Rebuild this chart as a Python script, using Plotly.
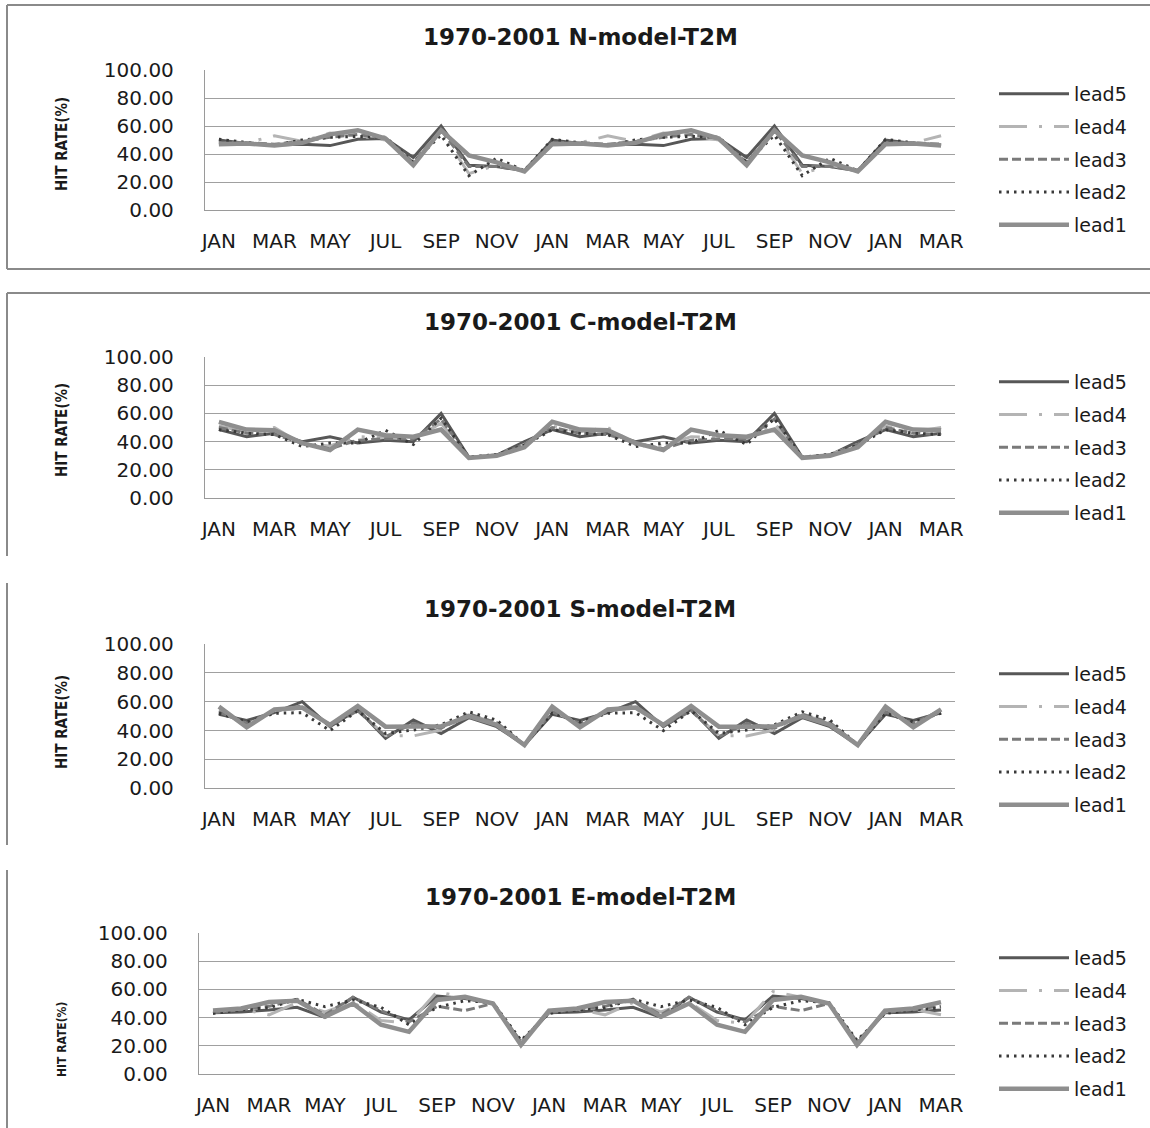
import plotly.graph_objects as go

W, H = 1150, 1128

months = ["JAN", "FEB", "MAR", "APR", "MAY", "JUN", "JUL", "AUG", "SEP", "OCT", "NOV", "DEC",
          "JAN", "FEB", "MAR", "APR", "MAY", "JUN", "JUL", "AUG", "SEP", "OCT", "NOV", "DEC",
          "JAN", "FEB", "MAR"]

series_names = ["lead5", "lead4", "lead3", "lead2", "lead1"]

# ---- N-model ----
n_lead5 = [50, 47.5, 46.5, 47, 46, 50.5, 51, 37.5, 60, 32, 31, 28,
           50, 47.5, 46.5, 47, 46, 50.5, 51, 37.5, 60, 32, 31, 28,
           50, 47.5, 46.5]
n_lead4 = [47, 48, 53, 49, 55, 53, 50, 34, 56, 26, 32, 28,
           47, 48, 53, 49, 55, 53, 50, 34, 56, 26, 32, 28,
           47, 48, 53]
n_lead3 = [48, 48, 47, 49, 52, 54, 51, 34, 57, 31, 31, 28.5,
           48, 48, 47, 49, 52, 54, 51, 34, 57, 31, 31, 28.5,
           48, 48, 47]
n_lead2 = [50.5, 48, 46, 50, 52, 52.5, 52, 34, 53.5, 24.5, 37, 28,
           50.5, 48, 46, 50, 52, 52.5, 52, 34, 53.5, 24.5, 37, 28,
           50.5, 48, 46]
n_lead1 = [47, 47.5, 46, 48, 54, 57, 51, 32, 57, 39, 34, 27.5,
           47, 47.5, 46, 48, 54, 57, 51, 32, 57, 39, 34, 27.5,
           47, 47.5, 46]

# ---- C-model ----
c_lead5 = [48.5, 43.5, 46, 40, 43.5, 39, 41, 40, 60, 29, 30.5, 40,
           48.5, 43.5, 46, 40, 43.5, 39, 41, 40, 60, 29, 30.5, 40,
           48.5, 43.5, 46]
c_lead4 = [51, 47, 50, 38, 37, 43.5, 43, 42, 53, 29, 31, 38,
           51, 47, 50, 38, 37, 43.5, 43, 42, 53, 29, 31, 38,
           51, 47, 50]
c_lead3 = [50, 46, 45, 39, 35, 41, 42, 42, 56, 28.5, 30.5, 38,
           50, 46, 45, 39, 35, 41, 42, 42, 56, 28.5, 30.5, 38,
           50, 46, 45]
c_lead2 = [48.5, 46, 45, 36.5, 39, 39, 48, 38, 56.5, 29, 31, 37.5,
           48.5, 46, 45, 36.5, 39, 39, 48, 38, 56.5, 29, 31, 37.5,
           48.5, 46, 45]
c_lead1 = [54, 48.5, 48, 39, 34, 48.5, 44.5, 43.5, 48.5, 28.5, 30, 36,
           54, 48.5, 48, 39, 34, 48.5, 44.5, 43.5, 48.5, 28.5, 30, 36,
           54, 48.5, 48]

# ---- S-model ----
s_lead5 = [51.3, 47, 52.4, 60, 42.7, 54.7, 34.6, 47.3, 38, 49, 42.7, 30,
           51.3, 47, 52.4, 60, 42.7, 54.7, 34.6, 47.3, 38, 49, 42.7, 30,
           51.3, 47, 52.4]
s_lead4 = [54, 44, 54, 55.4, 44.3, 53.8, 36.5, 36.3, 40.4, 50.8, 45.5, 30,
           54, 44, 54, 55.4, 44.3, 53.8, 36.5, 36.3, 40.4, 50.8, 45.5, 30,
           54, 44, 54]
s_lead3 = [53, 45, 54, 57, 43, 53.8, 35.8, 45, 41.6, 51.5, 45.5, 30,
           53, 45, 54, 57, 43, 53.8, 35.8, 45, 41.6, 51.5, 45.5, 30,
           53, 45, 54]
s_lead2 = [52, 46, 52, 52.4, 40, 53.8, 38, 40.4, 44, 53, 47.3, 30,
           52, 46, 52, 52.4, 40, 53.8, 38, 40.4, 44, 53, 47.3, 30,
           52, 46, 52]
s_lead1 = [56.6, 42.3, 54.7, 56, 44, 57, 42.7, 42.7, 43, 50, 44, 30,
           56.6, 42.3, 54.7, 56, 44, 57, 42.7, 42.7, 43, 50, 44, 30,
           56.6, 42.3, 54.7]

# ---- E-model ----
e_lead5 = [43.5, 44, 45.4, 47.3, 40.2, 54.4, 44, 38.4, 55.3, 53.6, 50, 22,
           43.5, 44, 45.4, 47.3, 40.2, 54.4, 44, 38.4, 55.3, 53.6, 50, 22,
           43.5, 44, 45.4]
e_lead4 = [44, 46, 42, 50.6, 44, 51, 38, 36, 58.4, 54.4, 50, 23,
           44, 46, 42, 50.6, 44, 51, 38, 36, 58.4, 54.4, 50, 23,
           44, 46, 42]
e_lead3 = [43.5, 46, 48, 53, 42, 54.4, 45, 37, 48, 45, 50, 23,
           43.5, 46, 48, 53, 42, 54.4, 45, 37, 48, 45, 50, 23,
           43.5, 46, 48]
e_lead2 = [43, 45.5, 47, 53, 47.8, 52.5, 47.3, 35, 47.3, 52, 50.6, 24,
           43, 45.5, 47, 53, 47.8, 52.5, 47.3, 35, 47.3, 52, 50.6, 24,
           43, 45.5, 47]
e_lead1 = [45, 46.5, 51, 52, 40.7, 50, 35, 30, 52.5, 54.8, 50, 20.7,
           45, 46.5, 51, 52, 40.7, 50, 35, 30, 52.5, 54.8, 50, 20.7,
           45, 46.5, 51]

panel_titles = ["1970-2001 N-model-T2M", "1970-2001 C-model-T2M",
                "1970-2001 S-model-T2M", "1970-2001 E-model-T2M"]
panel_data = [
    [n_lead5, n_lead4, n_lead3, n_lead2, n_lead1],
    [c_lead5, c_lead4, c_lead3, c_lead2, c_lead1],
    [s_lead5, s_lead4, s_lead3, s_lead2, s_lead1],
    [e_lead5, e_lead4, e_lead3, e_lead2, e_lead1],
]
y_ticks = [0, 20, 40, 60, 80, 100]

styles = {
    "lead5": dict(color="#575757", width=3, dash="solid"),
    "lead4": dict(color="#b4b4b4", width=3, dash="28px,12px,3px,12px"),
    "lead3": dict(color="#7a7a7a", width=3, dash="9px,4px"),
    "lead2": dict(color="#3a3a3a", width=3, dash="2.5px,5px"),
    "lead1": dict(color="#8e8e8e", width=4.5, dash="solid"),
}

# layout geometry in pixels
geom = [
    dict(l=205, r=955, t=70, b=210, ty=37, yty=144, lt=75),
    dict(l=205, r=955, t=356.7, b=498.3, ty=322, yty=430, lt=363),
    dict(l=205, r=955, t=644, b=788.3, ty=609, yty=722, lt=655),
    dict(l=199, r=955, t=932.7, b=1074.3, ty=897, yty=1040, lt=939),
]

def px(x):
    return x / W

def py(y):
    return 1 - y / H

fig = go.Figure()
x_idx = list(range(len(months)))

for p in range(4):
    ax = "" if p == 0 else str(p + 1)
    leg = "legend" if p == 0 else "legend" + str(p + 1)
    for name, vals in zip(series_names, panel_data[p]):
        st = styles[name]
        fig.add_trace(go.Scatter(
            x=x_idx, y=vals, mode="lines", name=name,
            line=dict(color=st["color"], width=st["width"], dash=st["dash"]),
            xaxis="x" + ax, yaxis="y" + ax, legend=leg,
            legendgroup=f"{p}_{name}", showlegend=True,
        ))

layout = dict(
    width=W, height=H, margin=dict(l=0, r=0, t=0, b=0, autoexpand=False),
    paper_bgcolor="white", plot_bgcolor="white",
    font=dict(family="DejaVu Sans", color="#1a1a1a"),
    annotations=[], shapes=[],
)

for p in range(4):
    g = geom[p]
    sfx = "" if p == 0 else str(p + 1)
    layout["xaxis" + sfx] = dict(
        domain=[px(g["l"]), px(g["r"])],
        anchor="y" + sfx, automargin=False,
        range=[-0.5, len(months) - 0.5],
        tickmode="array", tickvals=x_idx[::2], ticktext=months[::2],
        showgrid=False, zeroline=False,
        showline=True, linecolor="#9a9a9a", linewidth=1.3,
        ticks="", ticklabelstandoff=13,
        tickfont=dict(family="DejaVu Sans", size=20, color="#1a1a1a"),
    )
    layout["yaxis" + sfx] = dict(
        domain=[py(g["b"]), py(g["t"])],
        anchor="x" + sfx, automargin=False,
        range=[0, 100], tickmode="array", tickvals=y_ticks,
        tickformat=".2f",
        showgrid=True, gridcolor="#a0a0a0", gridwidth=1.3,
        zeroline=False, showline=True, linecolor="#9a9a9a", linewidth=1.3,
        ticks="", ticklabelstandoff=26,
        tickfont=dict(family="DejaVu Sans", size=20, color="#1a1a1a"),
    )
    leg = "legend" if p == 0 else "legend" + str(p + 1)
    layout[leg] = dict(
        x=px(994), y=py(g["lt"]), xanchor="left", yanchor="top",
        itemwidth=70, tracegroupgap=5, bgcolor="rgba(0,0,0,0)",
        font=dict(family="DejaVu Sans", size=19, color="#1a1a1a"),
        traceorder="grouped",
    )
    layout["annotations"].append(dict(
        text="<b>" + panel_titles[p] + "</b>", x=px(580), y=py(g["ty"]),
        xref="paper", yref="paper", showarrow=False, xanchor="center", yanchor="middle",
        font=dict(family="DejaVu Sans", size=23, color="#1a1a1a"),
    ))
    layout["annotations"].append(dict(
        text="<b>HIT RATE(%)</b>", x=px(62), y=py(g["yty"]),
        xref="paper", yref="paper", showarrow=False, xanchor="center", yanchor="middle",
        textangle=-90,
        font=dict(family="DejaVu Sans Condensed, DejaVu Sans",
                  size=15 if p < 3 else 12, color="#1a1a1a"),
    ))

# panel frames
fc = dict(color="#8a8a8a", width=2)
frames = [
    [(7, 5, 1152, 5), (7, 5, 7, 269), (7, 269, 1152, 269)],
    [(7, 293, 1152, 293), (7, 293, 7, 556)],
    [(7, 583, 7, 845)],
    [(7, 870, 7, 1128)],
]
for segs in frames:
    for (x0, y0, x1, y1) in segs:
        layout["shapes"].append(dict(type="line", xref="paper", yref="paper",
                                     x0=px(x0), y0=py(y0), x1=px(x1), y1=py(y1), line=fc))

fig.update_layout(**layout)
fig.write_html("out.html", config={"displayModeBar": False},
               post_script="document.body.style.margin='0';document.body.style.overflow='hidden';")
